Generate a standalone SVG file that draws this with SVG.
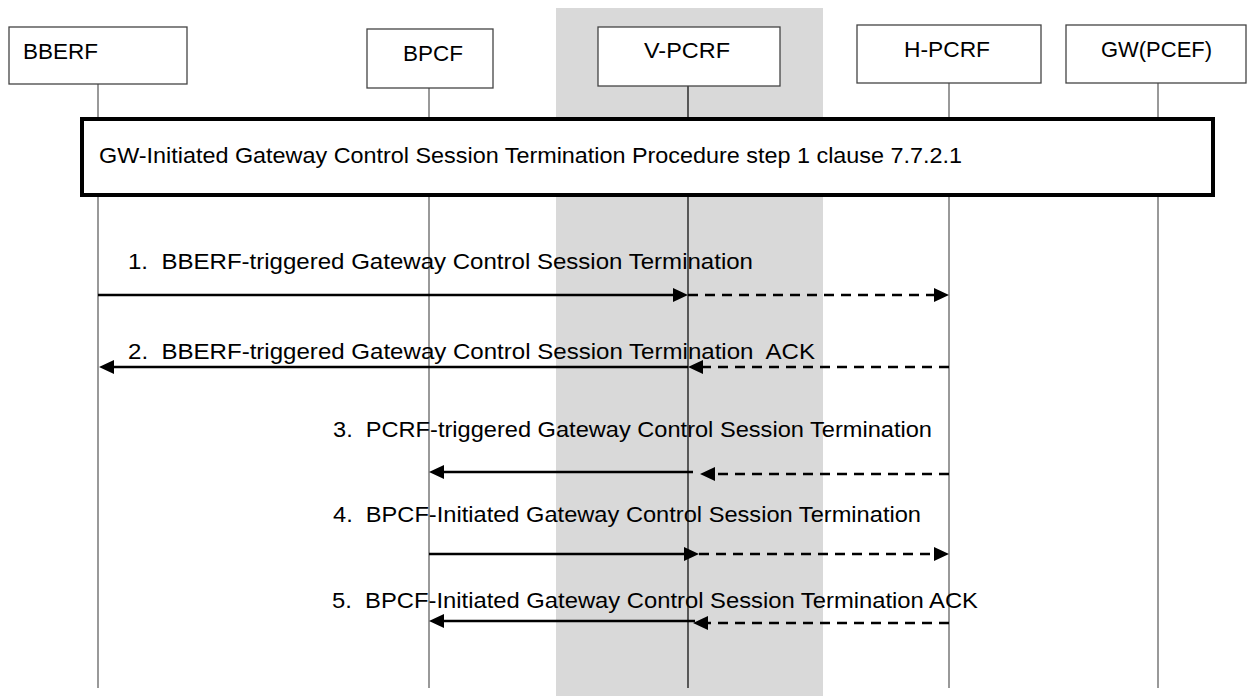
<svg xmlns="http://www.w3.org/2000/svg" width="1247" height="696" viewBox="0 0 1247 696">
<style>
text{font-family:"Liberation Sans",Arial,sans-serif;font-size:22px;fill:#000;white-space:pre}
.box{fill:#fff;stroke:#444;stroke-width:1.3}
.life{stroke:#555;stroke-width:1.2}
.solid{stroke:#000;stroke-width:2.5;fill:none}
.dash{stroke:#000;stroke-width:2.5;fill:none;stroke-dasharray:10 7}
.head{fill:#000}
</style>
<rect x="556" y="8" width="267" height="688" fill="#d9d9d9"/>
<g id="lifelines">
<line class="life" x1="98" y1="84" x2="98" y2="688"/>
<line class="life" x1="429" y1="88" x2="429" y2="688"/>
<line class="life" x1="688" y1="86" x2="688" y2="688" style="stroke:#000"/>
<line class="life" x1="949" y1="83" x2="949" y2="688"/>
<line class="life" x1="1158" y1="83" x2="1158" y2="688"/>
</g>
<g id="BBERF"><rect class="box" x="9" y="27" width="178" height="57"/><text x="23" y="59" textLength="75" lengthAdjust="spacingAndGlyphs">BBERF</text></g>
<g id="BPCF"><rect class="box" x="367" y="29" width="126" height="59"/><text x="403" y="61" textLength="60" lengthAdjust="spacingAndGlyphs">BPCF</text></g>
<g id="V-PCRF"><rect class="box" x="598" y="27" width="182" height="59"/><text x="644" y="58" textLength="86" lengthAdjust="spacingAndGlyphs">V-PCRF</text></g>
<g id="H-PCRF"><rect class="box" x="857" y="25" width="184" height="58"/><text x="904" y="57" textLength="86" lengthAdjust="spacingAndGlyphs">H-PCRF</text></g>
<g id="GW-PCEF"><rect class="box" x="1066" y="25" width="180" height="58"/><text x="1101" y="57" textLength="111" lengthAdjust="spacingAndGlyphs">GW(PCEF)</text></g>
<g id="frame"><rect x="82" y="119" width="1131" height="76" fill="#fff" stroke="#000" stroke-width="4"/><text x="99" y="163" textLength="863" lengthAdjust="spacingAndGlyphs">GW-Initiated Gateway Control Session Termination Procedure step 1 clause 7.7.2.1</text></g>
<g id="connectors">
<line class="solid" x1="98" y1="295" x2="674" y2="295"/><polygon class="head" points="688,295 673,288 673,302"/>
<line class="dash" x1="688" y1="295" x2="935" y2="295"/><polygon class="head" points="949,295 934,288 934,302"/>
<line class="dash" x1="949" y1="367" x2="702" y2="367"/><polygon class="head" points="688,367 703,360 703,374"/>
<line class="solid" x1="688" y1="367" x2="113" y2="367"/><polygon class="head" points="99,367 114,360 114,374"/>
<line class="solid" x1="693" y1="472" x2="443" y2="472"/><polygon class="head" points="429,472 444,465 444,479"/>
<line class="dash" x1="949" y1="474" x2="714" y2="474"/><polygon class="head" points="700,474 715,467 715,481"/>
<line class="solid" x1="429" y1="554" x2="685" y2="554"/><polygon class="head" points="699,554 684,547 684,561"/>
<line class="dash" x1="699" y1="554" x2="935" y2="554"/><polygon class="head" points="949,554 934,547 934,561"/>
<line class="solid" x1="695" y1="621" x2="443" y2="621"/><polygon class="head" points="429,621 444,614 444,628"/>
<line class="dash" x1="949" y1="623" x2="707" y2="623"/><polygon class="head" points="693,623 708,616 708,630"/>
</g>
<g id="labels">
<text x="128" y="269" textLength="625" lengthAdjust="spacingAndGlyphs">1.  BBERF-triggered Gateway Control Session Termination</text>
<text x="128" y="359" textLength="687" lengthAdjust="spacingAndGlyphs">2.  BBERF-triggered Gateway Control Session Termination  ACK</text>
<text x="333" y="437" textLength="599" lengthAdjust="spacingAndGlyphs">3.  PCRF-triggered Gateway Control Session Termination</text>
<text x="333" y="522" textLength="588" lengthAdjust="spacingAndGlyphs">4.  BPCF-Initiated Gateway Control Session Termination</text>
<text x="332" y="608" textLength="646" lengthAdjust="spacingAndGlyphs">5.  BPCF-Initiated Gateway Control Session Termination ACK</text>
</g>
</svg>
